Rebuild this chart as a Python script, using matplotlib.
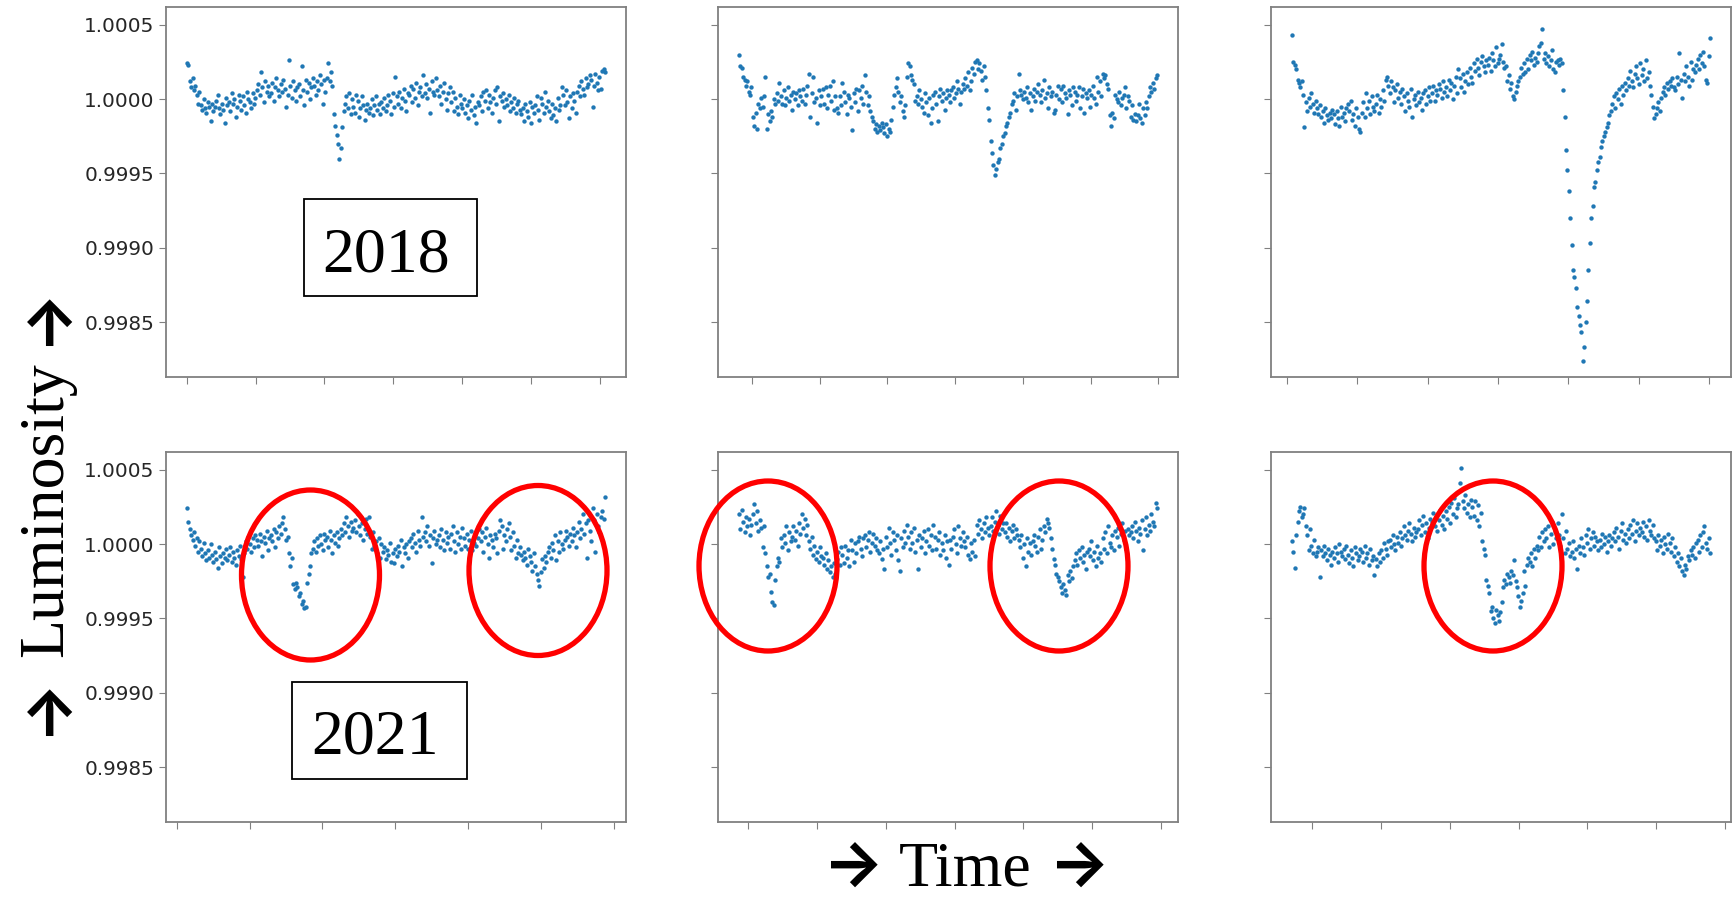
import numpy as np
import matplotlib.pyplot as plt
from matplotlib.patches import Ellipse, Rectangle
from matplotlib.ticker import FormatStrFormatter

# relative flux, offset from 1.0 in units of 1e-5
flux_2018_1 = [24, 23, 12, 8, 14, 6, 9, 3, -3, 5, -4, -7, 0, -6, -9, -2, -5, -15, -3, -8,
               -5, -1, 3, -6, -10, -3, -7, -16, 1, -4, -2, -8, 4, -3, 0, -12, -5, 3, -1, -7,
               2, -4, -9, 5, 0, -2, -6, 4, -3, 1, 6, 10, 3, 18, 8, -2, 12, 5, 9, 2,
               4, 11, -1, 8, 14, 6, 2, 10, 5, 13, 7, -5, 3, 26, 9, 1, 12, 6, -1, 8,
               10, 2, 22, 6, -4, 13, 5, 11, 0, 8, 14, 9, 3, 12, 6, 16, 10, -3, 13, 5,
               14, 24, 12, 18, 9, -10, -18, -24, -30, -40, -33, -19, -8, -3, 2, -6, 4, -10, 0, -5,
               -9, 3, -1, -12, -6, 2, -4, -14, -7, -3, -9, -6, 0, -11, -4, 2, -7, -3, -10, -2,
               -6, 1, -8, -4, 3, -1, -10, 4, -5, 15, 2, -3, 5, -6, 1, 7, -1, -8, 4, 3,
               9, -2, 7, 1, 11, -4, 5, 8, 2, 16, 4, 10, 1, 7, -9, 12, 5, 3, 14, 6,
               2, 9, -3, 5, 11, 0, -7, 4, 8, -2, 5, -8, 1, -5, -10, 3, -3, -6, 0, -9,
               -4, -13, -1, -7, 3, -11, -5, -16, -2, -4, 2, -8, 5, -1, 6, -6, 3, -2, -9, 1,
               6, -3, 8, -15, 2, -1, 4, -5, 0, -4, 3, -8, -2, -6, 1, -9, -3, -1, -7, -10,
               -6, -15, -3, -8, -12, -2, -16, -5, -9, -4, 2, -7, -14, 1, -3, -9, 5, -5, -1, -8,
               -13, -3, -11, -6, -15, 1, -7, -4, 8, 3, -4, 6, -2, -13, 2, -6, 4, -1, -9, 5,
               9, 2, 12, 7, 3, 14, 8, 10, 16, 13, -5, 9, 17, 11, 6, 15, 7, 19, 20, 18]

flux_2018_2 = [30, 22, 21, 15, 13, 9, 12, 5, 3, 8, -12, -18, -9, -20, -3, -6, 1, -5, 2, 15,
               -20, -10, -15, -8, -12, 0, -3, 4, -1, 11, 2, -3, 6, -4, 1, 8, -1, 3, -7, 5,
               0, 4, -4, 6, 2, -1, 7, -3, 3, 9, 17, -12, 4, 15, -2, 1, -16, 6, -4, 2,
               7, -3, 8, -6, 3, 9, -1, 12, -7, 2, -6, -9, 2, -4, 11, 5, -2, -10, 3, 1,
               -5, -21, 4, -2, 7, -8, 6, 1, 9, -3, 16, 5, -4, 2, -8, -12, -15, -20, -17, -22,
               -18, -21, -16, -19, -23, -17, -25, -20, -22, -14, -5, 3, 8, 14, 5, -2, 2, -8, -12, -4,
               15, 24, 22, 16, 13, 10, -1, 2, -3, 6, 0, -5, -9, 4, -2, -11, 1, -16, -6, 3,
               5, -3, -15, 2, 7, -1, 4, -7, 1, 6, 3, -2, 6, 8, 1, 4, 12, 7, -3, 5,
               10, 7, 14, 9, 18, 6, 12, 21, 17, 25, 26, 20, 24, 19, 13, 22, 15, 6, -6, -14,
               -28, -36, -44, -51, -47, -42, -40, -33, -30, -25, -23, -18, -16, -12, -9, -3, -1, 4, -7, 2,
               17, 6, 3, 0, 5, 1, 8, -2, 4, -7, 2, 7, -1, 5, 10, 3, -2, 6, 13, 1,
               4, -6, 8, 2, 5, -9, -7, 3, 9, 0, 7, -2, 9, 4, 1, -10, 6, 3, -4, 8,
               5, -1, 3, 8, -6, 2, 7, -9, 4, 1, 6, -5, 3, 9, 1, -3, 15, 5, 12, 2,
               17, 14, 16, 10, 7, -11, -18, -9, -13, 3, 0, -2, 5, -4, 1, 3, 8, -6, 2, -1,
               -12, -4, -14, -10, -15, -11, -3, -13, -16, -6, -11, -2, -6, 2, 8, 5, 11, 7, 14, 16]

flux_2018_3 = [43, 25, 23, 20, 13, 11, 8, 12, 3, -19, -2, -8, 1, -5, 4, -3, -9, -1, -6, -10,
               -4, -12, -8, -16, -6, -11, -14, -9, -13, -7, -10, -17, -8, -13, -18, -5, -12, -9, -15, -6,
               -3, -8, -1, -14, -10, -18, -6, -12, -20, -22, -9, -2, -12, 4, -6, -1, -10, 2, -5, -8,
               -3, 3, -9, 0, -5, 6, -1, 13, 15, 9, 4, 12, 8, -2, 6, 10, 1, 5, -3, 7,
               2, -8, 4, -1, -5, 7, -12, 0, 3, -4, 5, -2, 1, -7, 4, 6, -3, 2, 8, -1,
               4, 9, -1, 6, 3, 10, 7, 1, 12, 5, 8, 2, 13, 6, 11, 0, 9, 15, 4, 20,
               14, 8, 17, 5, 12, 18, 10, 21, 15, 11, 24, 19, 27, 21, 16, 25, 29, 22, 18, 26,
               23, 28, 19, 31, 26, 22, 35, 24, 27, 30, 37, 25, 21, 22, 12, 16, 7, 11, 2, 0,
               5, 9, 12, 15, 21, 17, 24, 18, 27, 20, 30, 26, 32, 23, 28, 25, 31, 36, 38, 47,
               27, 31, 24, 29, 22, 26, 33, 20, 18, 25, 26, 23, 27, 24, 6, -12, -34, -48, -62, -80,
               -98, -115, -120, -127, -140, -146, -152, -157, -176, -167,
               -150, -136, -115, -97, -80, -72, -59, -56, -48, -42,
               -39, -32, -28, -25, -22, -19, -16, -11, -8, -3, 2, -6, 4, 0, 7, -3, 9, 3, 11, 6,
               14, 9, 19, 12, 8, 17, 22, 14, 10, 24, 16, 20, 12, 26, 14, 18, 9, 3, -5, -13,
               -10, -6, -2, -8, 1, 5, 8, 3, 11, 7, 12, 9, 14, 8, 6, 15, 10, 31, 13, 1,
               17, 12, 22, 15, 9, 25, 13, 20, 18, 23, 27, 20, 30, 24, 32, 22, 13, 11, 29, 41]

flux_2021_1 = [24, 15, 10, 6, 3, 8, -1, 4, -5, 2, -3, -8, 1, -6, -11, -4, -9, 0, -7, -12,
               -5, -10, -16, -2, -8, -13, -6, -9, -3, -11, -7, -2, -12, -5, -9, -14, -4, -8, -1, -10,
               -22, -6, 2, -3, 5, 0, -5, 4, -2, 6, 3, -1, 7, 2, -8, 5, 1, 9, -4, 4,
               6, 2, 10, -2, 8, 4, 12, 7, 14, 18, 10, 3, 5, -6, -15, -9, -27, -30, -26, -29,
               -35, -33, -40, -38, -43, -42, -26, -20, -15, -6, -3, 2, -5, 4, -1, 6, 0, -4, 7, 3,
               5, -2, 9, 3, -6, 6, 1, 8, -1, 4, 10, 6, 14, 8, 18, 12, 5, 15, 9, 11,
               16, 8, 20, 12, 6, 14, 3, 10, 17, 7, 18, 5, -3, 8, -1, 2, -6, 4, -9, 0,
               -5, -2, -10, -4, -7, 1, -12, -6, -13, -3, -8, -1, -5, 3, -15, -2, -6, 0, -9, 2,
               4, -2, 7, 1, -5, 9, 3, -1, 18, 5, 8, 2, 12, -1, 6, -13, 4, 9, 0, 3,
               6, -2, 10, 3, -4, 8, 1, 5, -3, 7, 12, 2, -5, 8, 0, 5, -3, 11, 4, -1,
               7, -3, 3, 9, -4, 1, 6, -1, 4, 10, 2, 8, -5, 5, 11, 0, -9, 6, 3, -2,
               7, 4, -6, 9, 16, 12, -3, 6, 2, 10, 14, 5, -4, 8, -1, -9, 3, -6, -2, -7,
               -11, -5, -9, -14, -3, -8, -12, -18, -6, -15, -20, -24, -28, -19, -10, -16, -8, -12, -5, -2,
               -9, 1, -4, 6, -11, 2, -5, 8, 0, -3, 3, 9, 5, -1, 7, 2, 11, 6, -2, 8,
               15, 4, 10, 20, 7, 14, -9, 16, 9, 2, 24, 16, -5, 20, 12, 8, 18, 22, 17, 32]

flux_2021_2 = [20, 10, 23, 15, 8, 18, 12, 17, 6, 13, 20, 27, 14, 22, 9, 16, 11, -2, 12, -6,
               -15, -22, -20, -32, -39, -41, -24, -15, -9, -12, 4, -2, 6, 1, 12, -4, 8, 2, 5, 12,
               3, 9, -1, 14, 7, 20, 11, 17, 6, 13, 2, -3, 5, -7, -1, -10, -5, -12, -2, -8,
               -9, -14, -6, -17, -11, -19, -15, -22, -13, -20, -10, -5, -14, -2, -7, -13, -1, -9, -4, -15,
               3, -4, -12, 1, -6, 2, 5, -3, -8, 4, 6, -2, 3, 8, -5, 1, 7, -1, 4, -4,
               -6, 2, -10, -3, -17, 5, -2, 11, 1, -7, 8, 3, -4, 6, -11, -18, 4, -2, 9, 1,
               13, 5, -3, 8, 1, 11, -5, 3, -17, 6, -2, 4, 9, -6, 2, 10, -1, 6, -4, 13,
               5, -3, 3, 8, -7, 1, -4, 6, -9, 2, -14, 3, -3, 5, 10, 0, -6, 12, 4, -1,
               8, 2, -2, 5, -7, -10, 1, -5, 3, -8, 13, 7, 16, 10, 4, 14, 8, 18, 11, 6,
               12, 18, 9, 15, 22, 13, 7, 19, 10, 14, 8, 14, 5, 11, 2, 9, 13, 4, 10, 6,
               3, -2, 6, -9, 0, -15, 4, -5, 1, -7, 2, 6, -1, -5, 5, 10, -3, 3, 12, 8,
               17, 14, 11, 4, -3, -10, -14, -20, -22, -25, -29, -33, -27, -31, -34, -21, -25, -18, -23, -15,
               -11, -6, -14, -4, -9, -2, -12, -7, -17, -5, -3, -8, 2, -11, -5, -15, -1, -9, -6, -12,
               4, -3, 8, -6, 12, 1, -2, 6, -4, 9, 5, 11, -1, 7, 14, 3, 9, -3, 10, 6,
               8, 12, 4, 15, 9, 2, 11, 7, 16, -4, 10, 18, 6, 13, 9, 20, 15, 12, 28, 24]

flux_2021_3 = [2, -5, -16, 6, 15, 22, 25, 18, 20, 24, 12, 6, -4, 10, -1, -6, 3, -8, -5, -2,
               -22, -4, -8, -1, -6, -11, -3, -7, -14, -5, -9, -2, -6, -12, 0, -5, -8, -3, -10, -1,
               -7, -13, -4, -9, -15, -2, -6, -11, -8, -3, -5, -12, -1, -9, -6, -14, -3, -11, -8, -21,
               -10, -15, -6, -12, -4, -9, 1, -3, -7, 2, 3, -2, 6, 0, -4, 5, 1, 8, -1, 4,
               12, 6, 3, 9, 14, 7, 2, 11, 5, 8, 10, 16, 6, 13, 19, 8, 14, 4, 11, 17,
               15, 21, 12, 18, 9, 16, 23, 13, 19, 10, 22, 17, 25, 14, 28, 20, 31, 18, 24, 27,
               41, 51, 29, 24, 33, 21, 27, 18, 30, 25, 19, 29, 16, 26, 12, 21, 2, -3, -7, -24,
               -28, -33, -45, -42, -50, -53, -44, -48, -52, -46, -39, -29, -24, -27, -20, -22, -26, -18, -21, -11,
               -25, -29, -35, -42, -38, -33, -18, -28, -14, -9, -12, -6, -15, -3, -9, -1, -4, 5, -2, 8,
               2, 10, 4, 12, -2, 7, 15, 0, 9, 4, 14, 6, -1, 20, 4, -6, 9, -3, 1, -8,
               -5, 2, -9, -3, -17, -1, -6, 4, -2, -7, 6, 1, 10, -3, 4, 8, -1, 5, 2, -4,
               3, -2, 7, 0, 5, -5, 2, 6, -1, 4, 8, 2, 11, 5, -3, 9, 14, 3, 7, 1,
               10, 4, 13, 7, 16, 2, 9, 14, 6, 11, 8, 15, 5, 12, 3, 16, 9, 6, 13, 4,
               2, -4, 6, -1, 3, -6, 5, 0, -3, 7, 1, -5, 4, -8, -2, -12, -6, -15, -9, -18,
               -21, -14, -17, -8, -11, -4, -7, -2, -9, 1, 3, -5, 6, -2, 8, 12, 1, -3, 4, -6]

# first and last sample of each light curve, in units of the tick spacing
span_2018 = [(0.0, 6.08), (-0.19, 5.98), (0.075, 6.01)]
span_2021 = [(0.14, 5.88), (-0.13, 5.94), (-0.29, 5.78)]
y_ticks = [0.9985, 0.9990, 0.9995, 1.0000, 1.0005]

W, H = 1733, 901
fig = plt.figure(figsize=(W / 100, H / 100), dpi=100)


def fx(x):
    return x / W


def fy(y):
    return 1 - y / H


col_left = [166, 718, 1271]
row_top = [7, 452]
ax_w, ax_h = 460, 370

rows = [(flux_2018_1, flux_2018_2, flux_2018_3), (flux_2021_1, flux_2021_2, flux_2021_3)]
spans = [span_2018, span_2021]

for r in range(2):
    for c in range(3):
        ax = fig.add_axes([fx(col_left[c]), fy(row_top[r] + ax_h), ax_w / W, ax_h / H])
        flux = 1 + np.array(rows[r][c]) * 1e-5
        t = np.linspace(spans[r][c][0], spans[r][c][1], len(flux))
        ax.scatter(t, flux, s=10, color="#1f77b4", linewidths=0)
        ax.set_ylim(0.99813, 1.00062)
        ax.set_xticks(range(7))
        ax.set_xticklabels([])
        ax.set_yticks(y_ticks)
        if c == 0:
            ax.yaxis.set_major_formatter(FormatStrFormatter("%.4f"))
        else:
            ax.set_yticklabels([])
        ax.tick_params(colors="#808080", labelcolor="#262626", labelsize=14.4, length=5)
        for sp in ax.spines.values():
            sp.set_color("#808080")
            sp.set_linewidth(1.3)

serif = "Liberation Serif"
arrow_font = ["Inter", "DejaVu Sans"]

# year boxes
fig.add_artist(Rectangle((fx(304), fy(296)), 173 / W, 97 / H, transform=fig.transFigure,
                         fill=False, edgecolor="black", linewidth=1.3))
fig.text(fx(386), fy(272), "2018", fontfamily=serif, fontsize=46, ha="center", va="baseline")
fig.add_artist(Rectangle((fx(292), fy(779)), 175 / W, 97 / H, transform=fig.transFigure,
                         fill=False, edgecolor="black", linewidth=1.3))
fig.text(fx(375), fy(754), "2021", fontfamily=serif, fontsize=46, ha="center", va="baseline")

# red circles round the dips
circles = [(310.5, 575), (538, 570.5), (768, 566), (1059, 566), (1493, 566)]
for cx, cy in circles:
    fig.add_artist(Ellipse((fx(cx), fy(cy)), 138 / W, 170 / H, transform=fig.transFigure,
                           fill=False, edgecolor="#ff0000", linewidth=3.8))

# axis captions
fig.text(fx(965), fy(886), "Time", fontfamily=serif, fontsize=46, ha="center", va="baseline")
for ax_x in [853, 1079]:
    fig.text(fx(ax_x), fy(886), "\u2192", fontfamily=arrow_font, fontweight="bold",
             fontsize=46, ha="center", va="baseline")

fig.text(fx(62), fy(510), "Luminosity", fontfamily=serif, fontsize=46, rotation=90,
         rotation_mode="anchor", ha="center", va="baseline")
for ay in [316, 706]:
    fig.text(fx(64), fy(ay), "\u2192", fontfamily=arrow_font, fontweight="bold",
             fontsize=46, rotation=90, rotation_mode="anchor", ha="center", va="baseline")

fig.savefig("out.png", dpi=100)
